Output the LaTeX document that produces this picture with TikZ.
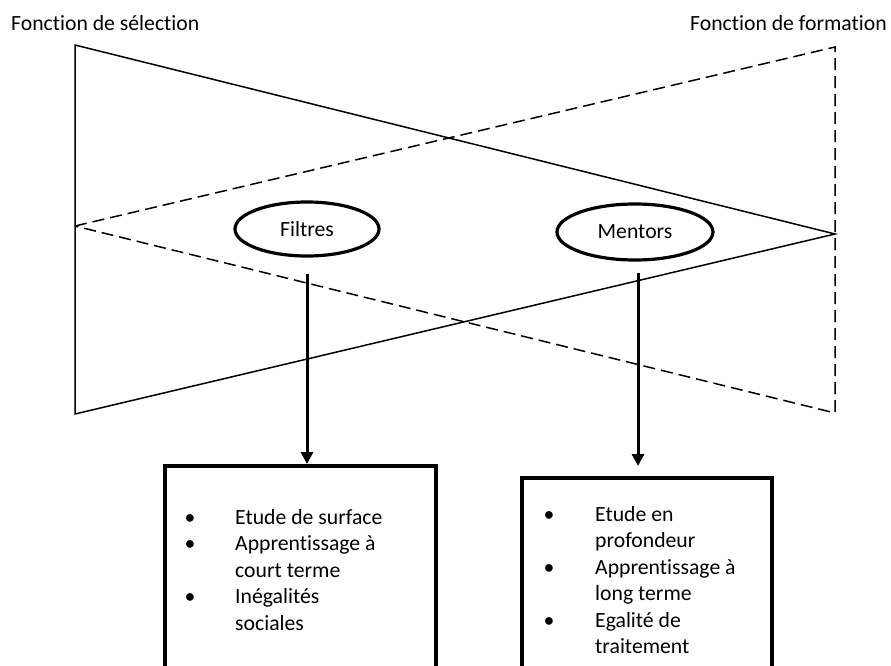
\documentclass[tikz,border=0pt]{standalone}
\usepackage{fontspec}
\setmainfont{Carlito}[Ligatures={NoCommon}]
\usetikzlibrary{shapes.geometric,arrows.meta}
\begin{document}
\begin{tikzpicture}[x=1pt,y=-1pt,
  every node/.style={font=\fontsize{21.7}{26.5}\selectfont, inner sep=0pt},
  tri/.style={line width=1.5pt, line join=miter},
  dsh/.style={line width=1.5pt, dash pattern=on 12pt off 6pt},
  oval/.style={ellipse, draw, line width=3.2pt, minimum width=144pt, minimum height=54pt},
  listbox/.style={draw, line width=4pt, rectangle},
  arr/.style={line width=3pt, -{Triangle[width=12pt,length=12pt]}},
  itemtxt/.style={anchor=base west},
  bul/.style={anchor=base}
]
\clip (0,0) rectangle (891,666);
\fill[white] (0,0) rectangle (891,666);

% header labels
\node[anchor=base west] (sel) at (11,31) {Fonction de sélection};
\node[anchor=base east] (form) at (887,31) {Fonction de formation};

% triangles
\coordinate (s1) at (75,45);
\coordinate (s2) at (75,414);
\coordinate (sa) at (835,234);
\coordinate (d1) at (835,47);
\coordinate (d2) at (835,413);
\coordinate (da) at (75,226);
\draw[tri] (s1) -- (sa) -- (s2) -- cycle;
\draw[dsh] (da) -- (d1) -- (d2) -- cycle;

% ellipses
\node[oval] (fil) at (307,229) {Filtres};
\node[oval, minimum width=156pt, minimum height=56pt] (men) at (635,232) {Mentors};

% boxes
\node[listbox, minimum width=271pt, minimum height=240pt] (box1) at (300.5,586) {};
\node[listbox, minimum width=250pt, minimum height=240pt] (box2) at (647,598) {};

% arrows
\draw[arr] ([yshift=-16pt]fil.south) -- (fil.south |- box1.north);
\draw[arr, shorten >=10pt] ([xshift=3pt,yshift=-11pt]men.south) -- ([xshift=3pt]men.south |- box2.north);

% box 1 text
\node[bul] (b1a) at (190,524) {\textbullet};
\node[bul] (b1b) at (190,550.5) {\textbullet};
\node[bul] (b1c) at (190,603.5) {\textbullet};
\node[itemtxt] (t11) at (235,524) {Etude de surface};
\node[itemtxt] (t12) at (235,550.5) {Apprentissage à};
\node[itemtxt] (t13) at (235,577) {court terme};
\node[itemtxt] (t14) at (235,603.5) {Inégalités};
\node[itemtxt] (t15) at (235,630) {sociales};

% box 2 text
\node[bul] (b2a) at (549,521) {\textbullet};
\node[bul] (b2b) at (549,574) {\textbullet};
\node[bul] (b2c) at (549,627) {\textbullet};
\node[itemtxt] (t21) at (595,521) {Etude en};
\node[itemtxt] (t22) at (595,547.5) {profondeur};
\node[itemtxt] (t23) at (595,574) {Apprentissage à};
\node[itemtxt] (t24) at (595,600.5) {long terme};
\node[itemtxt] (t25) at (595,627) {Egalité de};
\node[itemtxt] (t26) at (595,653.5) {traitement};
\end{tikzpicture}
\end{document}
